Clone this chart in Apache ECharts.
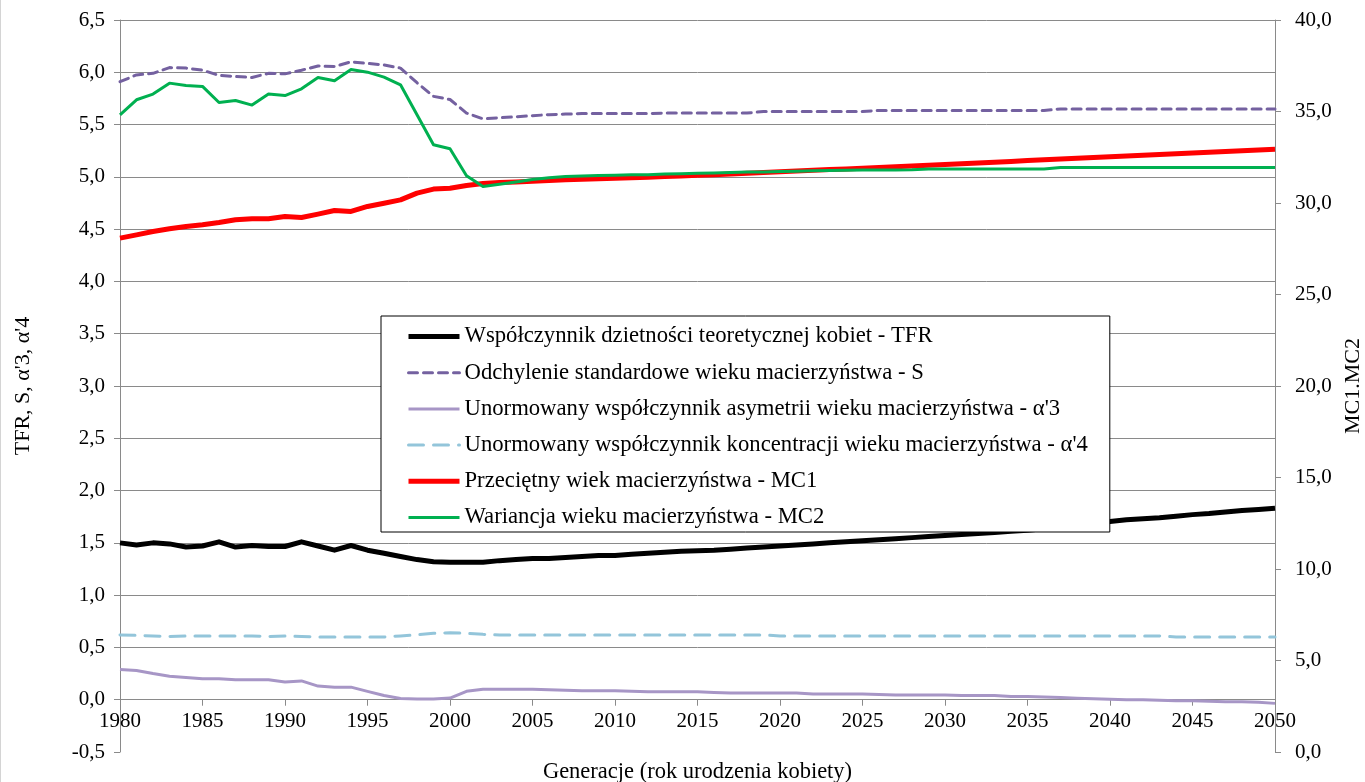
<!DOCTYPE html>
<html>
<head>
<meta charset="utf-8">
<script src="https://cdn.jsdelivr.net/npm/echarts@6/dist/echarts.min.js"></script>
<style>
html,body{margin:0;padding:0;background:#fff;}
#chart{width:1365px;height:782px;}
</style>
</head>
<body>
<div id="chart"></div>
<script>
var years = [
'1980','1981','1982','1983','1984','1985','1986','1987','1988','1989',
'1990','1991','1992','1993','1994','1995','1996','1997','1998','1999',
'2000','2001','2002','2003','2004','2005','2006','2007','2008','2009',
'2010','2011','2012','2013','2014','2015','2016','2017','2018','2019',
'2020','2021','2022','2023','2024','2025','2026','2027','2028','2029',
'2030','2031','2032','2033','2034','2035','2036','2037','2038','2039',
'2040','2041','2042','2043','2044','2045','2046','2047','2048','2049',
'2050'];

var seriesNames = [
'Współczynnik dzietności teoretycznej kobiet - TFR',
'Odchylenie standardowe wieku macierzyństwa - S',
"Unormowany współczynnik asymetrii wieku macierzyństwa - α'3",
"Unormowany współczynnik koncentracji wieku macierzyństwa - α'4",
'Przeciętny wiek macierzyństwa - MC1',
'Wariancja wieku macierzyństwa - MC2'];

var tfr = [
1.50,1.48,1.50,1.49,1.46,1.47,1.51,1.46,1.475,1.465,
1.465,1.51,1.47,1.43,1.475,1.43,1.40,1.37,1.34,1.32,
1.315,1.315,1.315,1.33,1.34,1.35,1.35,1.36,1.37,1.38,
1.38,1.39,1.40,1.41,1.42,1.425,1.43,1.44,1.45,1.46,
1.47,1.48,1.49,1.50,1.51,1.52,1.53,1.54,1.55,1.56,
1.57,1.58,1.59,1.60,1.61,1.62,1.635,1.65,1.67,1.69,
1.705,1.72,1.73,1.74,1.755,1.77,1.78,1.795,1.81,1.82,
1.83];

var sDev = [
5.91,5.975,5.99,6.045,6.04,6.02,5.97,5.96,5.95,5.99,
5.985,6.02,6.06,6.055,6.10,6.085,6.07,6.04,5.90,5.77,
5.74,5.61,5.555,5.565,5.575,5.585,5.595,5.60,5.605,5.605,
5.605,5.605,5.605,5.61,5.61,5.61,5.61,5.61,5.61,5.625,
5.625,5.625,5.625,5.625,5.625,5.625,5.635,5.635,5.635,5.635,
5.635,5.635,5.635,5.635,5.635,5.635,5.635,5.65,5.65,5.65,
5.65,5.65,5.65,5.65,5.65,5.65,5.65,5.65,5.65,5.65,
5.65];

var alpha3 = [
0.29,0.28,0.25,0.225,0.213,0.20,0.20,0.19,0.19,0.19,
0.17,0.18,0.13,0.12,0.12,0.08,0.04,0.012,0.006,0.006,
0.016,0.08,0.10,0.10,0.10,0.10,0.095,0.09,0.085,0.085,
0.085,0.08,0.075,0.075,0.075,0.075,0.07,0.065,0.065,0.065,
0.065,0.065,0.055,0.055,0.055,0.055,0.05,0.045,0.045,0.045,
0.045,0.04,0.04,0.04,0.03,0.03,0.025,0.02,0.015,0.01,
0.005,0.0,0.0,-0.005,-0.01,-0.01,-0.015,-0.02,-0.02,-0.025,
-0.035];

var alpha4 = [
0.62,0.615,0.61,0.605,0.61,0.61,0.61,0.61,0.61,0.605,
0.61,0.605,0.60,0.60,0.60,0.60,0.60,0.61,0.62,0.635,
0.64,0.635,0.625,0.62,0.62,0.62,0.62,0.62,0.62,0.62,
0.62,0.62,0.62,0.62,0.62,0.62,0.62,0.62,0.62,0.62,
0.61,0.61,0.61,0.61,0.61,0.61,0.61,0.61,0.61,0.61,
0.61,0.61,0.61,0.61,0.61,0.61,0.61,0.61,0.61,0.61,
0.61,0.61,0.61,0.61,0.60,0.60,0.60,0.60,0.60,0.60,
0.60];

var mc1 = [
28.08,28.26,28.44,28.59,28.72,28.81,28.93,29.08,29.14,29.14,
29.26,29.21,29.39,29.59,29.54,29.81,29.99,30.17,30.54,30.76,
30.81,30.96,31.07,31.12,31.15,31.19,31.23,31.27,31.30,31.32,
31.35,31.38,31.41,31.45,31.48,31.52,31.55,31.59,31.63,31.67,
31.71,31.75,31.79,31.83,31.86,31.90,31.94,31.98,32.02,32.06,
32.10,32.14,32.19,32.23,32.27,32.32,32.37,32.41,32.45,32.49,
32.53,32.57,32.61,32.65,32.69,32.73,32.77,32.81,32.85,32.90,
32.94];

var mc2 = [
34.82,35.64,35.95,36.55,36.42,36.37,35.49,35.60,35.35,35.95,
35.87,36.24,36.86,36.68,37.30,37.15,36.88,36.46,34.82,33.18,
32.96,31.49,30.90,31.03,31.15,31.28,31.38,31.45,31.48,31.50,
31.52,31.54,31.55,31.58,31.60,31.62,31.64,31.66,31.69,31.70,
31.72,31.74,31.76,31.78,31.79,31.81,31.81,31.81,31.82,31.86,
31.86,31.86,31.86,31.86,31.86,31.86,31.86,31.94,31.94,31.94,
31.94,31.94,31.94,31.94,31.94,31.94,31.94,31.94,31.94,31.94,
31.94];

var FONT = "'Liberation Serif', 'Times New Roman', serif";
var GRID = '#8a8a8a';
function comma(v){ return v.toFixed(1).replace('.', ','); }

var colors = ['#000000', '#7461a0', '#a796c6', '#93c5da', '#ff0000', '#00b050'];
var widths = [5, 3, 3, 3, 5, 3];
var dashes = [null, [9, 6], null, [15, 10], null, null];
var seriesData = [tfr, sDev, alpha3, alpha4, mc1, mc2];
var axisIdx = [0, 0, 0, 0, 1, 1];

var GRID_TOP = 20, GRID_BOTTOM = 30, CHART_H = 782;
var Y_MIN = -0.5, Y_MAX = 6.5;
var plotH = CHART_H - GRID_TOP - GRID_BOTTOM;
// offset that moves the category axis line up from the grid bottom to the value 0
var zeroOffset = -plotH * (0 - Y_MIN) / (Y_MAX - Y_MIN);

var chart = echarts.init(document.getElementById('chart'), null, {renderer:'canvas'});

var series = seriesNames.map(function(name, i){
  return {
    name: name, type: 'line', data: seriesData[i], yAxisIndex: axisIdx[i],
    symbol: 'none', smooth: false, z: 2 + i,
    lineStyle: {color: colors[i], width: widths[i], type: dashes[i] || 'solid', cap: dashes[i] ? 'round' : 'butt', join: 'round'},
    itemStyle: {color: colors[i]},
    emphasis: {disabled: true},
    animation: false
  };
});

var legendData = seriesNames.map(function(name, i){
  return {name: name, lineStyle: {width: widths[i], color: colors[i], type: dashes[i] || 'solid'}};
});

var option = {
  animation: false,
  backgroundColor: '#ffffff',
  textStyle: {fontFamily: FONT},
  grid: {left: 120, right: 90, top: GRID_TOP, bottom: GRID_BOTTOM, containLabel: false, outerBoundsMode: 'none'},
  legend: {
    orient: 'vertical', left: 381, top: 316, z: 20,
    backgroundColor: '#ffffff', borderColor: '#000000', borderWidth: 1,
    padding: [9, 22, 3, 25], itemGap: 13.2, itemWidth: 51, itemHeight: 14,
    itemStyle: {opacity: 0},
    textStyle: {fontFamily: FONT, fontSize: 22.7, color: '#000'},
    data: legendData
  },
  xAxis: {
    type: 'category', data: years, boundaryGap: false, position: 'bottom', offset: zeroOffset,
    name: 'Generacje (rok urodzenia kobiety)', nameLocation: 'middle', nameGap: 61,
    nameTextStyle: {fontFamily: FONT, fontSize: 22.5, color: '#000'},
    axisLine: {onZero: false, lineStyle: {color: GRID, width: 1}},
    axisTick: {show: true, interval: 4, inside: false, length: 6, lineStyle: {color: GRID}},
    axisLabel: {interval: 4, margin: 11, fontFamily: FONT, fontSize: 21, color: '#000'},
    splitLine: {show: false}
  },
  yAxis: [{
    type: 'value', min: Y_MIN, max: Y_MAX, interval: 0.5, position: 'left',
    name: "TFR, S, α'3, α'4", nameLocation: 'middle', nameGap: 86, nameRotate: 90,
    nameTextStyle: {fontFamily: FONT, fontSize: 22, color: '#000'},
    axisLine: {show: true, onZero: false, lineStyle: {color: GRID}},
    axisTick: {show: true, length: 6, lineStyle: {color: GRID}},
    axisLabel: {formatter: comma, margin: 15, fontFamily: FONT, fontSize: 21, color: '#000'},
    splitLine: {show: true, lineStyle: {color: ['rgba(0,0,0,0)', GRID, GRID, GRID, GRID, GRID, GRID, GRID, GRID, GRID, GRID, GRID, GRID, GRID, GRID], width: 1}}
  }, {
    type: 'value', min: 0, max: 40, interval: 5, position: 'right',
    name: 'MC1.MC2', nameLocation: 'middle', nameGap: 58, nameRotate: 90,
    nameTextStyle: {fontFamily: FONT, fontSize: 22, color: '#000'},
    axisLine: {show: true, onZero: false, lineStyle: {color: GRID}},
    axisTick: {show: true, length: 6, lineStyle: {color: GRID}},
    axisLabel: {formatter: comma, margin: 20, fontFamily: FONT, fontSize: 21, color: '#000'},
    splitLine: {show: false}
  }],
  graphic: [{
    type: 'line', shape: {x1: 0.5, y1: 0, x2: 0.5, y2: 782},
    style: {stroke: '#d4d4d4', lineWidth: 1}, silent: true
  }],
  series: series
};
chart.setOption(option);
</script>
</body>
</html>
